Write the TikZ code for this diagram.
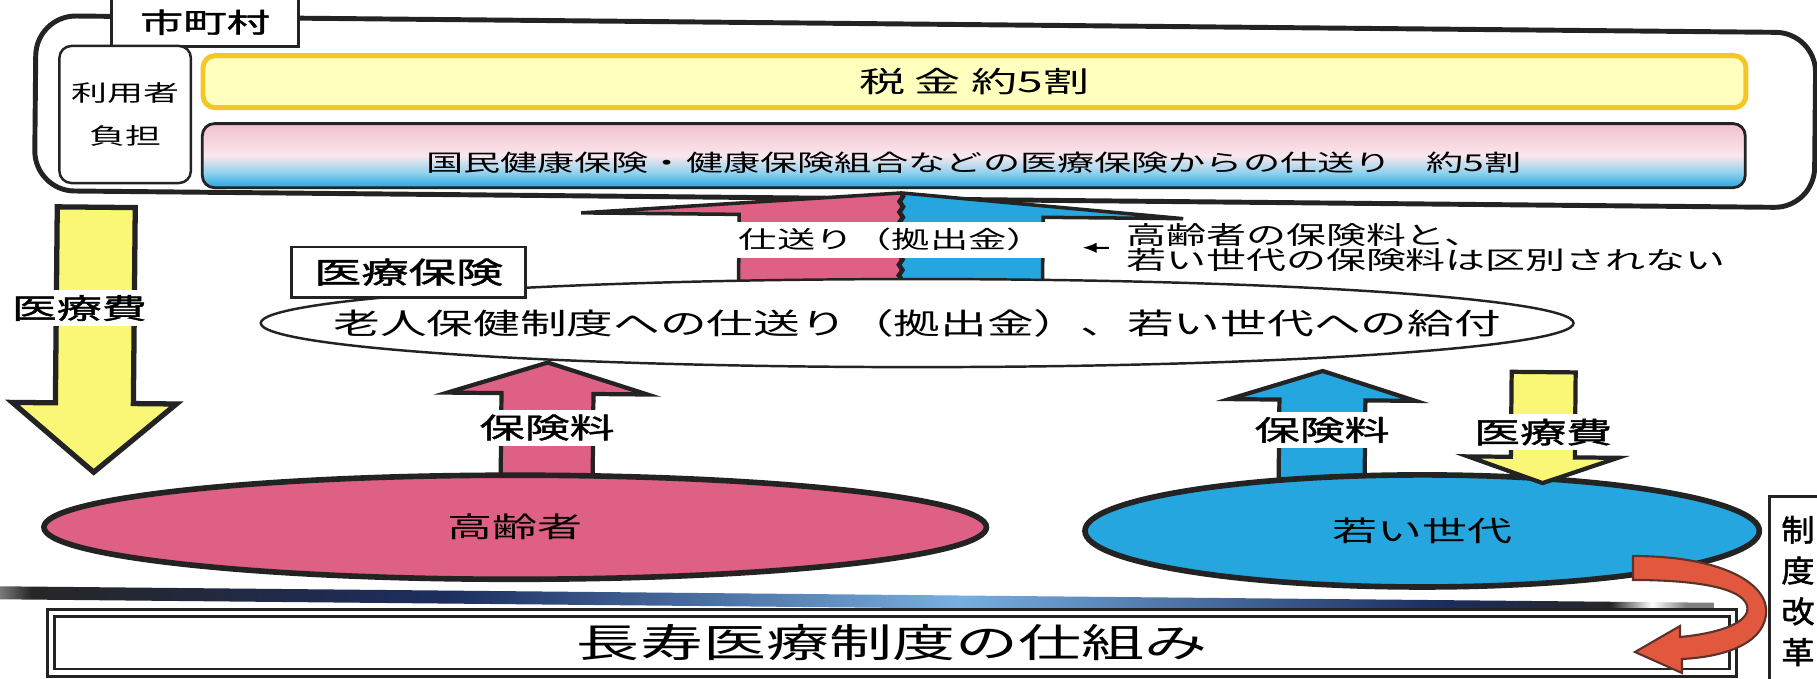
\documentclass[tikz,border=0pt]{standalone}
\usepackage{fontspec}
\setmainfont[FakeStretch=1.6]{Noto Sans CJK JP}
\newfontfamily\jpb[FakeStretch=1.6,FakeBold=1.5]{Noto Sans CJK JP}
\newfontfamily\jpv[FakeStretch=1.1,FakeBold=1.5]{Noto Sans CJK JP}
\usetikzlibrary{shapes.geometric,decorations.pathmorphing,arrows.meta}

\definecolor{kpink}{RGB}{222,96,132}
\definecolor{kblue}{RGB}{38,166,222}
\definecolor{kyellow}{RGB}{250,246,118}
\definecolor{kpale}{RGB}{255,255,190}
\definecolor{kgold}{RGB}{245,198,40}
\definecolor{kline}{RGB}{35,35,35}
\definecolor{kred}{RGB}{226,88,62}
\definecolor{knavy}{RGB}{28,45,95}
\definecolor{ksky}{RGB}{120,175,225}

\newcommand{\fsz}[1]{\fontsize{#1}{#1}\selectfont}
\newcommand{\blockarrow}[7][]{\draw[blockarrow,#1] (#2,#3) -- (#2+#5,#4) -- (#2+#6,#4) -- (#2+#6,#7) -- (#2-#6,#7) -- (#2-#6,#4) -- (#2-#5,#4) -- cycle;}

\pgfdeclareverticalshading{kokuho}{100bp}{color(0bp)=(kblue); color(25bp)=(kblue); color(37bp)=(kblue!50!white); color(50bp)=(kpink!15!white); color(75bp)=(kpink!40!white); color(100bp)=(kpink!40!white)}
\pgfdeclarehorizontalshading{tube}{100bp}{color(0bp)=(gray); color(25bp)=(gray); color(26bp)=(black!85); color(38bp)=(knavy); color(53bp)=(ksky); color(67bp)=(knavy); color(72bp)=(black!85); color(73.2bp)=(white); color(74.2bp)=(gray); color(75bp)=(gray); color(100bp)=(gray)}

\tikzset{
  blockarrow/.style={draw=kline, line width=1.2pt, line join=miter},
  band/.style={fill=white, inner xsep=1pt, inner ysep=0pt, minimum height=0.36cm},
  thinbox/.style={draw=kline, fill=white, line width=0.7pt},
  people/.style={ellipse, draw=kline, line width=1.6pt, font=\fsz{8}},
}

\begin{document}
\begin{tikzpicture}[x=0.01cm, y=-0.01cm]
\useasboundingbox (0,0) rectangle (1817,678);
\clip (0,0) rectangle (1817,678);
\fill[white] (0,0) rectangle (1817,678);

\begin{scope}[rotate around={-0.55:(908,339)}]
  % municipality
  \draw[kline, line width=1.4pt, rounded corners=0.4cm] (33,24) rectangle (1813,199);
  \node[thinbox, minimum width=1.87cm, minimum height=0.39cm, font=\jpb\fsz{7.7}] (shichoson) at (202,29) {市町村};
  \node[thinbox, rounded corners=0.12cm, minimum width=1.16cm, minimum height=1.37cm, align=center, font=\fontsize{6.4}{12.2}\selectfont] (futan) at (123,122) {利用者\\負担};
  \node[draw=kgold, fill=kpale, line width=1.4pt, rounded corners=0.12cm, minimum width=15.42cm, minimum height=0.52cm, font=\fsz{8.2}] (zeikin) at (972,81) {税\hspace{0.3em}金\hspace{0.4em}約5割};
  \node[draw=kline, line width=0.8pt, rounded corners=0.12cm, shading=kokuho, minimum width=15.42cm, minimum height=0.64cm] (kenpo) at (972,155) {};
  \node[font=\fsz{6.6}] (kenpotext) at (972,162) {国民健康保険・健康保険組合などの医療保険からの仕送り\hspace{1.5em}約5割};

  % medical costs
  \blockarrow[fill=kyellow, line width=1.5pt]{95}{480}{411}{82}{39}{215}
  \node[band, font=\jpb\fsz{8}] (iryohi) at (79,316) {医療費};

  % contribution
  \fill[kpink] (900,193) -- (900,290) -- (738,290) -- (738,216) -- (580,216) -- cycle;
  \fill[kblue] (900,193) -- (1182,216) -- (1042,216) -- (1042,290) -- (900,290) -- cycle;
  \draw[kline, line width=1pt, line join=miter] (900,193) -- (1182,216) -- (1042,216) -- (1042,290) -- (738,290) -- (738,216) -- (580,216) -- cycle;
  \draw[kline, line width=1.3pt, decorate, decoration={snake, amplitude=0.5pt, segment length=3pt}] (900,193) -- (900,290);
  \node[band, minimum width=3.3cm, font=\fsz{6.8}] (kyoshutsu) at (891,240) {仕送り（拠出金）};
  \node[anchor=west, align=left, font=\fsz{7.1}] (kubetsu) at (1113,246) {高齢者の保険料と、\\若い世代の保険料は区別されない};
  \draw[-{Latex[length=4pt,width=3pt]}, line width=0.6pt, shorten <=0.05cm, shorten >=0.25cm] (kubetsu.west) -- (kubetsu.west -| kyoshutsu.east);

  % health insurance
  \node[ellipse, draw=kline, line width=0.7pt, fill=white, minimum width=13.12cm, minimum height=0.88cm, label={[font=\fsz{8.3}]center:老人保健制度への仕送り（拠出金）、若い世代への給付}] (rojin) at (917,323) {};
  \node[thinbox, minimum width=2.34cm, minimum height=0.39cm, font=\jpb\fsz{8.4}] (iryohoken) at (408,277) {医療保険};

  % premiums
  \blockarrow[fill=kpink]{548}{366}{397}{100}{46}{490}
  \node[band, font=\jpb\fsz{8}] (hokenryo1) at (548,431) {保険料};
  \blockarrow[fill=kblue]{1323}{367}{396}{93}{43}{490}
  \node[band, font=\jpb\fsz{8}] (hokenryo2) at (1323,426) {保険料};

  \node[people, fill=kpink, minimum width=9.42cm, minimum height=1.04cm] (koreisha) at (517,531) {高齢者};
  \node[people, fill=kblue, minimum width=6.74cm, minimum height=1.12cm] (wakai) at (1424,526) {若い世代};
  \blockarrow[fill=kyellow]{1544}{477}{451}{75}{32}{366}
  \node[band, font=\jpb\fsz{8.2}] (iryohi2) at (1544,426) {医療費};

  \shade[shading=tube] (0,595) rectangle (1716,608);
  \node[draw=kline, double, double distance=1.3pt, line width=0.8pt, fill=white, minimum width=16.81cm, minimum height=0.52cm, font=\fsz{11.2}] (chojyu) at (895,643) {長寿医療制度の仕組み};
\end{scope}

% reform
\node[draw=kline, line width=0.7pt, minimum width=0.5cm, minimum height=1.89cm, align=center, font=\jpv\fontsize{8.6}{11.6}\selectfont] (kaikaku) at (1798,591) {制\\度\\改\\革};
\draw[kline!70!kred, line width=0.6pt, fill=kred] (1633,556) .. controls (1725,556) and (1770,585) .. (1766,615) .. controls (1762,645) and (1722,657) .. (1682,659) -- (1682,673) -- (1635,652) -- (1680,626) -- (1680,637) .. controls (1712,634) and (1742,626) .. (1747,612) .. controls (1752,592) and (1712,580) .. (1633,580) -- cycle;
\end{tikzpicture}
\end{document}
